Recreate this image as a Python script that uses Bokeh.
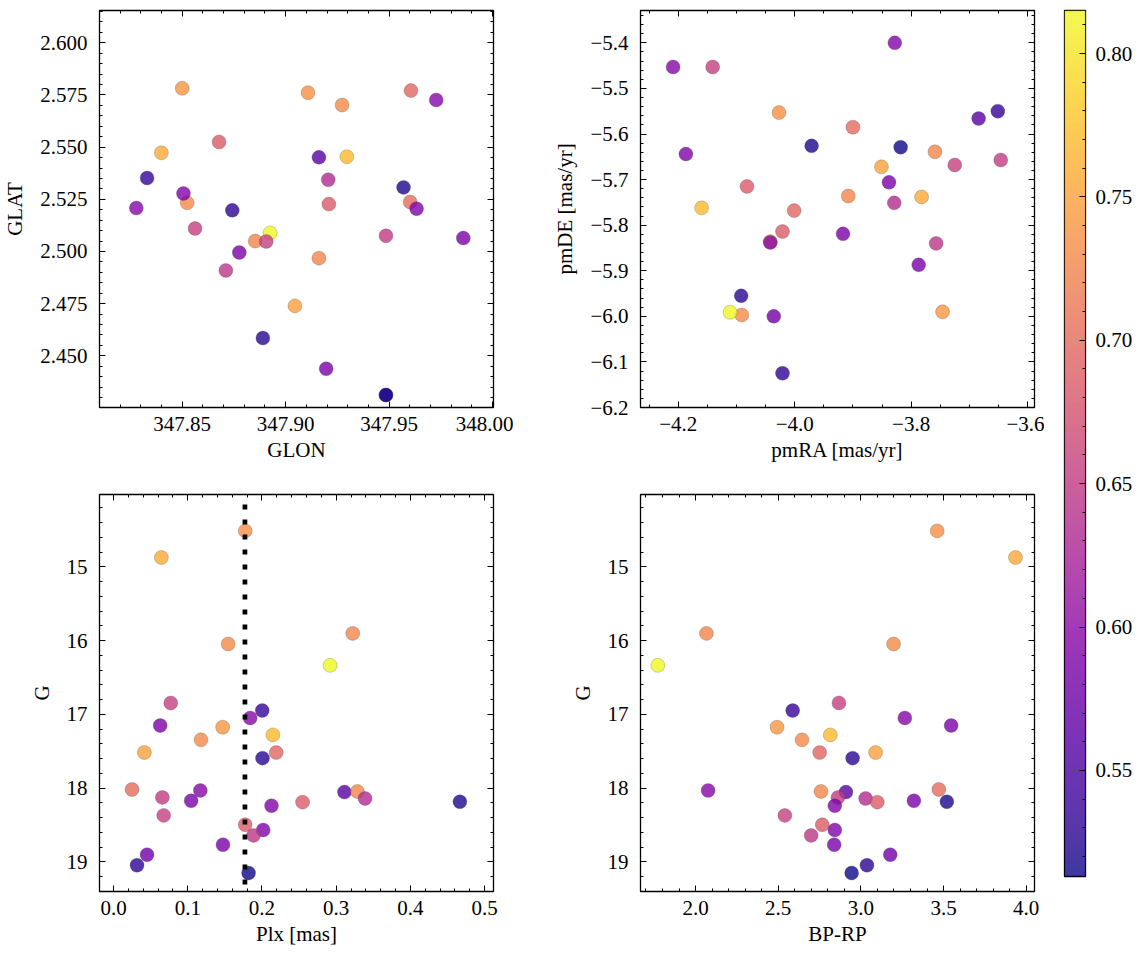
import numpy as np
from bokeh.plotting import figure
from bokeh.layouts import row, column
from bokeh.models import (LinearAxis, FixedTicker, Range1d, LinearColorMapper,
                          CustomJSTickFormatter, ColumnDataSource, Span)
from bokeh.palettes import Plasma256
from bokeh.embed import file_html
from bokeh.resources import INLINE

# ---------------- data ----------------
glon = [347.9108, 347.8399, 347.8853, 347.8524, 347.8925, 347.8906, 347.8330, 347.8278,
        347.9859, 347.8500, 347.9296, 347.9273, 347.9045, 347.9606, 347.8890, 347.9602,
        347.9728, 347.9161, 347.9161, 347.9485, 347.9206, 347.8776, 347.8678, 347.9570,
        347.8506, 347.8562, 347.9209, 347.9633, 347.8711, 347.9196, 347.9485, 347.8742,
        347.9485]
glat = [2.5761, 2.5473, 2.5050, 2.5233, 2.5089, 2.5048, 2.5352, 2.5208, 2.5064, 2.5782,
        2.5454, 2.5702, 2.4739, 2.5771, 2.4585, 2.5237, 2.5726, 2.5451, 2.4968, 2.5075,
        2.5344, 2.4995, 2.5525, 2.5307, 2.5278, 2.5110, 2.5227, 2.5205, 2.4909, 2.4438,
        2.4312, 2.5197, 2.4312]
pmra = [-4.027, -3.782, -3.759, -4.091, -4.111, -3.725, -3.651, -4.209, -3.838, -3.746,
        -4.160, -4.042, -3.851, -4.001, -4.092, -3.900, -4.042, -3.684, -3.908, -3.646,
        -3.829, -3.917, -4.082, -3.971, -3.828, -4.141, -4.021, -4.187, -3.757, -3.787,
        -4.036, -4.021, -3.818]
pmde = [-5.553, -5.738, -5.639, -5.997, -5.991, -5.668, -5.550, -5.453, -5.706, -5.990,
        -5.762, -5.836, -5.672, -5.768, -5.955, -5.585, -5.838, -5.566, -5.736, -5.657,
        -5.751, -5.819, -5.715, -5.626, -5.400, -5.453, -5.814, -5.644, -5.840, -5.887,
        -6.000, -6.125, -5.629]
plx = [0.1774, 0.0644, 0.3223, 0.1544, 0.2918, 0.0770, 0.2003, 0.1841, 0.0628, 0.1470,
       0.2147, 0.1178, 0.0415, 0.2192, 0.2007, 0.0249, 0.1169, 0.3111, 0.3286, 0.0657,
       0.3389, 0.1045, 0.2547, 0.4667, 0.2128, 0.0675, 0.1774, 0.2016, 0.1886, 0.1474,
       0.0451, 0.0316, 0.1819]
gmag = [14.513, 14.874, 15.902, 16.046, 16.335, 16.845, 16.948, 17.048, 17.151, 17.174,
        17.278, 17.345, 17.517, 17.517, 17.593, 18.017, 18.031, 18.053, 18.044, 18.125,
        18.139, 18.171, 18.189, 18.184, 18.238, 18.369, 18.495, 18.567, 18.640, 18.766,
        18.901, 19.045, 19.149]
bprp = [3.4615, 3.935, 2.0658, 3.1976, 1.7717, 2.8674, 2.5874, 3.2658, 3.5458, 2.4928,
        2.815, 2.6438, 3.0889, 2.7505, 2.9499, 3.4716, 2.0759, 2.9096, 2.7585, 2.8614,
        3.0285, 3.3206, 3.0990, 3.5198, 2.8423, 2.5402, 2.7665, 2.8423, 2.6993, 2.8383,
        3.1775, 3.0366, 2.9439]
prob = [0.735, 0.755, 0.725, 0.73, 0.815, 0.655, 0.535, 0.595, 0.585, 0.74, 0.77, 0.73,
        0.75, 0.695, 0.525, 0.70, 0.595, 0.56, 0.725, 0.65, 0.635, 0.585, 0.685, 0.52,
        0.59, 0.655, 0.685, 0.59, 0.645, 0.585, 0.58, 0.53, 0.513]
plx_ref = 0.177
prob_min, prob_max = 0.513, 0.815

FONT = "Liberation Serif"
FS = "21px"

mapper = LinearColorMapper(palette=Plasma256, low=prob_min, high=prob_max)
src = ColumnDataSource(dict(glon=glon, glat=glat, pmra=pmra, pmde=pmde, plx=plx,
                            g=gmag, bprp=bprp, prob=prob))


def fmt(nd):
    return CustomJSTickFormatter(code="return tick.toFixed(%d).replace('-', '\\u2212');" % nd)


def style_axis(ax, labelled, label=None, std=9, lstd=6):
    ax.major_tick_in = 6
    ax.major_tick_out = 0
    ax.minor_tick_in = 3
    ax.minor_tick_out = 0
    ax.major_tick_line_color = "black"
    ax.minor_tick_line_color = "black"
    ax.major_tick_line_width = 1
    ax.minor_tick_line_width = 1
    ax.axis_line_color = None
    if labelled:
        ax.major_label_text_font = FONT
        ax.major_label_text_font_size = FS
        ax.major_label_text_color = "black"
        ax.major_label_standoff = std
        if label:
            ax.axis_label = label
            ax.axis_label_text_font = FONT
            ax.axis_label_text_font_size = FS
            ax.axis_label_text_font_style = "normal"
            ax.axis_label_text_color = "black"
            ax.axis_label_standoff = lstd
    else:
        ax.major_label_text_color = None
        ax.major_label_text_font_size = "0px"
        ax.major_label_standoff = 0


def make_fig(xr, yr, xt, xm, yt, ym, xd, yd, xlabel, ylabel, xcol, ycol, bl, br, bt, bb):
    p = figure(frame_width=394, frame_height=397, x_range=Range1d(*xr), y_range=Range1d(*yr),
               output_backend="svg", toolbar_location=None,
               x_axis_location=None, y_axis_location=None,
               min_border_left=bl, min_border_right=br, min_border_top=bt, min_border_bottom=bb)
    p.xgrid.grid_line_color = None
    p.ygrid.grid_line_color = None
    p.outline_line_color = "black"
    p.outline_line_width = 1.3
    p.outline_line_alpha = 1.0
    for loc in ["below", "left", "above", "right"]:
        if loc in ("below", "above"):
            ax = LinearAxis(ticker=FixedTicker(ticks=xt, minor_ticks=xm), formatter=fmt(xd))
            style_axis(ax, loc == "below", xlabel, std=9, lstd=4)
        else:
            ax = LinearAxis(ticker=FixedTicker(ticks=yt, minor_ticks=ym), formatter=fmt(yd))
            style_axis(ax, loc == "left", ylabel, std=12, lstd=10)
        p.add_layout(ax, loc)
    p.scatter(xcol, ycol, source=src, size=14,
              fill_color={"field": "prob", "transform": mapper}, fill_alpha=0.8,
              line_color="#444444", line_alpha=0.5, line_width=0.5)
    return p


def steps(a, b, s):
    n = int(round((b - a) / s))
    return [round(a + i * s, 6) for i in range(n + 1)]


g_range = (19.40, 14.02)

p1 = make_fig((347.81, 348.0005), (2.4252, 2.6155),
              [347.85, 347.90, 347.95, 348.00], steps(347.81, 348.0, 0.01),
              steps(2.45, 2.60, 0.025), steps(2.43, 2.615, 0.005),
              2, 3, "GLON", "GLAT", "glon", "glat", 99, 20, 10, 67)
p2 = make_fig((-4.265, -3.588), (-6.2, -5.329),
              [-4.2, -4.0, -3.8, -3.6], steps(-4.25, -3.6, 0.05),
              steps(-6.2, -5.4, 0.1), steps(-6.2, -5.34, 0.02),
              1, 1, "pmRA [mas/yr]", "pmDE [mas/yr]", "pmra", "pmde", 127, 10, 10, 67)
p3 = make_fig((-0.019, 0.512), g_range,
              steps(0.0, 0.5, 0.1), steps(0.0, 0.5, 0.02),
              [15, 16, 17, 18, 19], steps(14.2, 19.4, 0.2),
              1, 0, "Plx [mas]", "G", "plx", "g", 99, 20, 20, 62)
p4 = make_fig((1.667, 4.05), g_range,
              steps(2.0, 4.0, 0.5), steps(1.7, 4.0, 0.1),
              [15, 16, 17, 18, 19], steps(14.2, 19.4, 0.2),
              1, 0, "BP-RP", "G", "bprp", "g", 127, 10, 20, 62)

vline = Span(location=plx_ref, dimension="height", line_color="black", line_width=4.7,
             line_dash="5 10", line_dash_offset=5, level="overlay")
p3.add_layout(vline)

# ---------------- colorbar ----------------
cb = figure(frame_width=21, frame_height=866, x_range=Range1d(0, 1),
            y_range=Range1d(prob_min, prob_max), output_backend="svg", toolbar_location=None,
            x_axis_location=None, y_axis_location=None,
            min_border_left=20, min_border_right=55, min_border_top=10, min_border_bottom=77)
cb.xgrid.grid_line_color = None
cb.ygrid.grid_line_color = None
cb.outline_line_color = "black"
cb.outline_line_width = 1.3
grad = np.linspace(prob_min, prob_max, 512).reshape(-1, 1)
cb.image(image=[grad], x=0, y=prob_min, dw=1, dh=prob_max - prob_min,
         color_mapper=mapper, global_alpha=0.8)
cax = LinearAxis(ticker=FixedTicker(ticks=steps(0.55, 0.80, 0.05), minor_ticks=steps(0.52, 0.81, 0.01)),
                 formatter=fmt(2))
style_axis(cax, True, None, std=10)
cax.major_tick_in = 6
cax.minor_tick_in = 3
cb.add_layout(cax, "right")

layout = row(column(p1, p3), column(p2, p4), cb)
open("out.html", "w").write(file_html(layout, INLINE))
